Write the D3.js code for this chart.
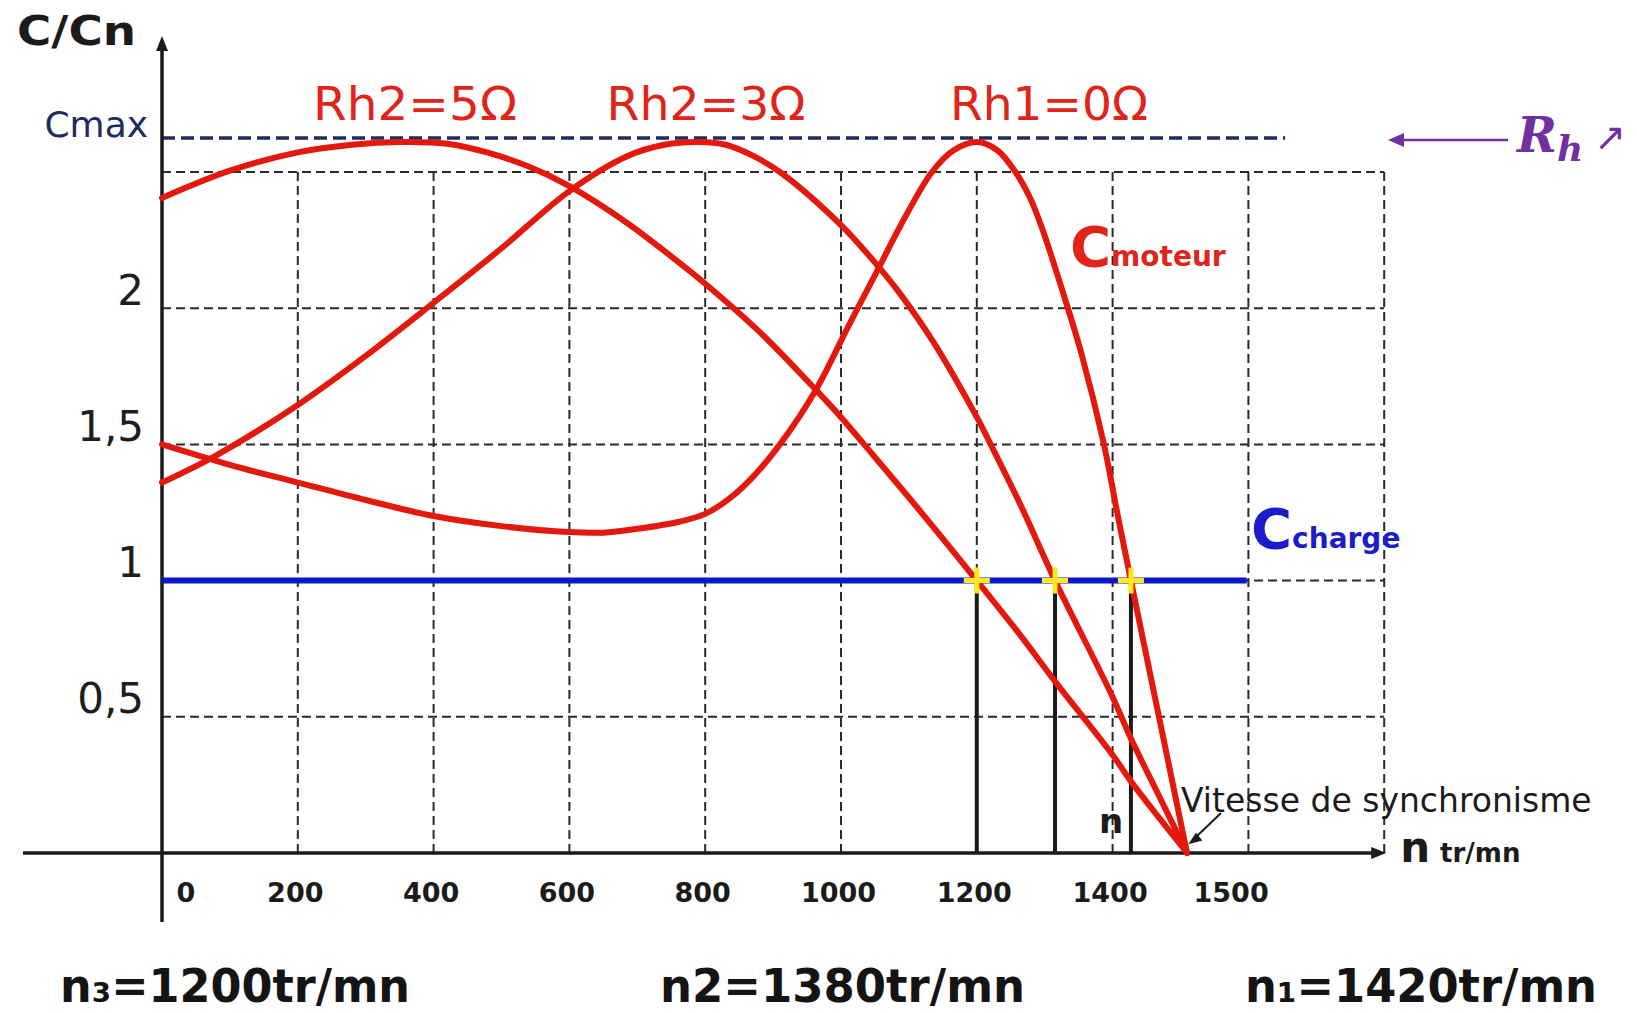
<!DOCTYPE html>
<html>
<head>
<meta charset="utf-8">
<script src="https://cdn.jsdelivr.net/npm/d3@7"></script>
<style>
  html, body { margin: 0; background: #ffffff; }
  svg { display: block; }
</style>
</head>
<body>
<script>
// Torque / speed characteristics of a wound-rotor induction motor
// for three rotor rheostat values, with a constant load torque.

// ---- data -------------------------------------------------------------
const speedTicks = [0, 200, 400, 600, 800, 1000, 1200, 1400, 1500];   // tr/mn
const torqueTicks = [0.5, 1, 1.5, 2];                                  // C/Cn
const torqueGrid = [0.5, 1, 1.5, 2, 2.5];
const cmax = 2.625;            // breakdown torque (C/Cn)
const syncSpeed = 1500;        // synchronous speed (tr/mn)
const loadTorque = 1;          // C charge / Cn
const loadSpan = [0, 1585];    // speed range covered by the load line
const cmaxSpan = [0, 1640];    // speed range covered by the Cmax line

const curveLabels = ["Rh2=5Ω", "Rh2=3Ω", "Rh1=0Ω"];

// [speed (tr/mn), C/Cn]
const rh5Curve = [
  [0, 2.405], [100, 2.505], [200, 2.572], [280, 2.60], [350, 2.61], [420, 2.604],
  [480, 2.571], [540, 2.52], [600, 2.448], [685, 2.313], [750, 2.19], [800, 2.09],
  [880, 1.913], [963, 1.70], [1000, 1.60], [1034, 1.50], [1115, 1.26],
  [1200, 1.00], [1300, 0.80], [1380, 0.63], [1400, 0.36], [1420, 0.263],
  [1460, 0.13], [1500, 0]
];
const rh3Curve = [
  [0, 1.36], [80, 1.46], [200, 1.645], [300, 1.825], [400, 2.02], [500, 2.22],
  [600, 2.43], [685, 2.558], [740, 2.60], [790, 2.61], [830, 2.60], [870, 2.56],
  [910, 2.50], [1000, 2.305], [1056, 2.15], [1085, 2.06], [1135, 1.88],
  [1200, 1.60], [1232, 1.50], [1300, 1.28], [1380, 1.00], [1400, 0.573],
  [1420, 0.42], [1460, 0.21], [1500, 0]
];
const rh0Curve = [
  [0, 1.50], [100, 1.425], [200, 1.36], [300, 1.296], [400, 1.237], [500, 1.20],
  [600, 1.178], [650, 1.176], [700, 1.19], [760, 1.215], [800, 1.245], [835, 1.30],
  [870, 1.38], [910, 1.50], [963, 1.70], [1010, 1.93], [1056, 2.15], [1087, 2.30],
  [1134, 2.50], [1166, 2.58], [1200, 2.61], [1247, 2.58], [1289, 2.50],
  [1324, 2.40], [1354, 2.276], [1380, 2.15], [1383, 2.05], [1389, 1.84],
  [1397, 1.50], [1405, 1.25], [1420, 1.00], [1460, 0.50], [1500, 0]
];

const operatingSpeeds = [1200, 1380, 1420];   // n3, n2, n1
const operatingSubs = ["₃", "2", "₁"];

// ---- layout -----------------------------------------------------------
const W = 1637, H = 1013;
const x0 = 162, yBottom = 853, yTop = 172, cellX = 135.8;
const RED = "#e3190d", BLUE = "#0b17c8", NAVY = "#1c2d5e", PURPLE = "#7030a0";
const FONT = "'DejaVu Sans', Verdana, sans-serif";

const y = d3.scaleLinear().domain([0, 2.5]).range([yBottom, yTop]);
// speed axis of the sketch: linear up to 1200 tr/mn, stretched around the operating points
const x = d3.scaleLinear()
  .domain([0, 1200, 1380, 1400, 1420, 1500])
  .range([x0, x0 + 6 * cellX, x0 + 6.576 * cellX, x0 + 7 * cellX,
          x0 + 7.135 * cellX, x0 + 7.548 * cellX]);
const gridX = d3.scaleLinear().domain([0, 9]).range([x0, x0 + 9 * cellX]);

const svg = d3.select("body").append("svg")
  .attr("width", W).attr("height", H)
  .attr("viewBox", `0 0 ${W} ${H}`)
  .style("font-family", FONT);

// ---- dashed grid ------------------------------------------------------
const grid = svg.append("g").attr("stroke", "#2a2a2a").attr("stroke-width", 2)
  .attr("stroke-dasharray", "9,5").attr("fill", "none");
grid.selectAll("line.h").data(torqueGrid).join("line").attr("class", "h")
  .attr("x1", x0).attr("x2", gridX(9))
  .attr("y1", d => y(d)).attr("y2", d => y(d));
grid.selectAll("line.v").data(d3.range(1, 10)).join("line").attr("class", "v")
  .attr("x1", d => gridX(d)).attr("x2", d => gridX(d))
  .attr("y1", y(2.5)).attr("y2", y(0));

// ---- Cmax line --------------------------------------------------------
svg.append("line")
  .attr("x1", x(cmaxSpan[0])).attr("x2", x(cmaxSpan[1]))
  .attr("y1", y(cmax)).attr("y2", y(cmax))
  .attr("stroke", NAVY).attr("stroke-width", 3.5).attr("stroke-dasharray", "13,6");
svg.append("text").attr("x", x0 - 14).attr("y", y(cmax) - 1)
  .attr("text-anchor", "end").attr("font-size", 36).attr("fill", NAVY).text("Cmax");

// ---- axes -------------------------------------------------------------
const axisColor = "#1b1b1b";
svg.append("line").attr("x1", 23).attr("x2", gridX(9) - 6)
  .attr("y1", y(0)).attr("y2", y(0)).attr("stroke", axisColor).attr("stroke-width", 3.5);
svg.append("path")
  .attr("d", `M${gridX(9) + 2},${y(0)} l-15,-6 v12 z`).attr("fill", axisColor);
svg.append("line").attr("x1", x0).attr("x2", x0)
  .attr("y1", 922).attr("y2", 50).attr("stroke", axisColor).attr("stroke-width", 3.5);
svg.append("path")
  .attr("d", `M${x0},36 l-6,15 h12 z`).attr("fill", axisColor);

// speed tick labels
const xAxis = svg.append("g").attr("transform", `translate(0,${y(0)})`)
  .call(d3.axisBottom(x).tickValues(speedTicks).tickSize(0).tickFormat(d3.format("d")));
xAxis.select(".domain").remove();
xAxis.selectAll("text")
  .attr("y", 49).attr("dy", null)
  .attr("font-family", FONT).attr("font-weight", "bold").attr("font-size", 27)
  .attr("fill", "#1b1b1b")
  .attr("text-anchor", d => (d === 0 || d === syncSpeed) ? "start" : "middle")
  .attr("dx", d => d === 0 ? 14 : d === syncSpeed ? 6 : -3);

// torque tick labels
const yAxis = svg.append("g").attr("transform", `translate(${x0},0)`)
  .call(d3.axisLeft(y).tickValues(torqueTicks).tickSize(0)
    .tickFormat(d => String(d).replace(".", ",")));
yAxis.select(".domain").remove();
yAxis.selectAll("text")
  .attr("x", -18).attr("dy", "-0.1em")
  .attr("font-family", FONT).attr("font-size", 42).attr("fill", "#1e1e1e")
  .attr("text-anchor", "end");

svg.append("text").attr("x", 17).attr("y", 45)
  .attr("font-size", 40).attr("font-weight", "bold").attr("fill", "#1b1b1b")
  .attr("textLength", 119).attr("lengthAdjust", "spacingAndGlyphs").text("C/Cn");

const nLabel = svg.append("text").attr("x", gridX(9) + 16).attr("y", y(0) + 9)
  .attr("font-weight", "bold").attr("fill", "#1b1b1b");
nLabel.append("tspan").attr("font-size", 42).text("n");
nLabel.append("tspan").attr("font-size", 26).attr("dx", 10).text("tr/mn");

// ---- load torque line -------------------------------------------------
svg.append("line")
  .attr("x1", x(loadSpan[0])).attr("x2", x(loadSpan[1]))
  .attr("y1", y(loadTorque)).attr("y2", y(loadTorque))
  .attr("stroke", BLUE).attr("stroke-width", 6);

// ---- operating point verticals ---------------------------------------
svg.selectAll("line.op").data(operatingSpeeds).join("line").attr("class", "op")
  .attr("x1", d => x(d)).attr("x2", d => x(d))
  .attr("y1", y(loadTorque)).attr("y2", y(0))
  .attr("stroke", "#1b1b1b").attr("stroke-width", 4);

// ---- motor torque curves ---------------------------------------------
const line = d3.line().x(d => x(d[0])).y(d => y(d[1])).curve(d3.curveCatmullRom.alpha(0.5));
svg.selectAll("path.curve").data([rh5Curve, rh3Curve, rh0Curve]).join("path")
  .attr("class", "curve")
  .attr("d", line).attr("fill", "none")
  .attr("stroke", RED).attr("stroke-width", 6)
  .attr("stroke-linejoin", "round").attr("stroke-linecap", "round");

// intersections with the load line
svg.selectAll("path.cross").data(operatingSpeeds).join("path").attr("class", "cross")
  .attr("transform", d => `translate(${x(d)},${y(loadTorque)})`)
  .attr("d", "M-13,0H13M0,-13V13")
  .attr("stroke", "#ffe81c").attr("stroke-width", 5);

// ---- curve labels -----------------------------------------------------
const labelPos = [[415, 204], [706, 199], [1049, 198]];
svg.selectAll("text.rh").data(curveLabels).join("text").attr("class", "rh")
  .attr("x", (d, i) => labelPos[i][0]).attr("y", 120)
  .attr("text-anchor", "middle").attr("font-size", 46).attr("fill", "#e0241a")
  .attr("textLength", (d, i) => labelPos[i][1]).attr("lengthAdjust", "spacingAndGlyphs")
  .text(d => d);

const cm = svg.append("text").attr("x", 1070).attr("y", 266)
  .attr("font-weight", "bold").attr("fill", "#e0241a");
cm.append("tspan").attr("font-size", 56).text("C");
cm.append("tspan").attr("font-size", 28).text("moteur");

const cc = svg.append("text").attr("x", 1251).attr("y", 548)
  .attr("font-weight", "bold").attr("fill", "#1c1cc8");
cc.append("tspan").attr("font-size", 56).text("C");
cc.append("tspan").attr("font-size", 28).text("charge");

// "n" marker between the operating points
svg.append("text").attr("x", 1099).attr("y", 833)
  .attr("font-size", 34).attr("font-weight", "bold").attr("fill", "#1b1b1b").text("n");

// synchronous speed annotation
const sx = x(syncSpeed), sy = y(0);
svg.append("text").attr("x", sx - 6).attr("y", 812)
  .attr("font-size", 33).attr("fill", "#1b1b1b").text("Vitesse de synchronisme");
svg.append("line").attr("x1", sx + 34).attr("y1", sy - 40)
  .attr("x2", sx + 9).attr("y2", sy - 16)
  .attr("stroke", "#1b1b1b").attr("stroke-width", 2);
svg.append("path")
  .attr("d", `M${sx + 3},${sy - 10} l11,-3 l-5,-6 z`)
  .attr("fill", "#1b1b1b").attr("stroke", "#1b1b1b").attr("stroke-width", 1.5);

// ---- Rh increasing annotation ----------------------------------------
svg.append("line").attr("x1", 1508).attr("x2", 1400).attr("y1", 140).attr("y2", 140)
  .attr("stroke", PURPLE).attr("stroke-width", 2.5);
svg.append("path").attr("d", "M1388,140 l16,-7 v14 z").attr("fill", PURPLE);
const rh = svg.append("text").attr("x", 1517).attr("y", 152)
  .attr("font-family", "'DejaVu Serif', serif").attr("font-style", "italic")
  .attr("font-weight", "bold").attr("fill", PURPLE);
rh.append("tspan").attr("font-size", 48).text("R");
rh.append("tspan").attr("font-size", 36).attr("dy", 9).text("h");
svg.append("text").attr("x", 1594).attr("y", 150)
  .attr("font-size", 38).attr("fill", PURPLE).text("↗");

// ---- operating speeds -------------------------------------------------
const bottomPos = [[60, 350], [660, 365], [1245, 352]];
svg.selectAll("text.op").data(operatingSpeeds).join("text").attr("class", "op")
  .attr("x", (d, i) => bottomPos[i][0]).attr("y", 1002)
  .attr("font-size", 46).attr("font-weight", "bold").attr("fill", "#141414")
  .attr("textLength", (d, i) => bottomPos[i][1]).attr("lengthAdjust", "spacingAndGlyphs")
  .text((d, i) => `n${operatingSubs[i]}=${d}tr/mn`);
</script>
</body>
</html>
